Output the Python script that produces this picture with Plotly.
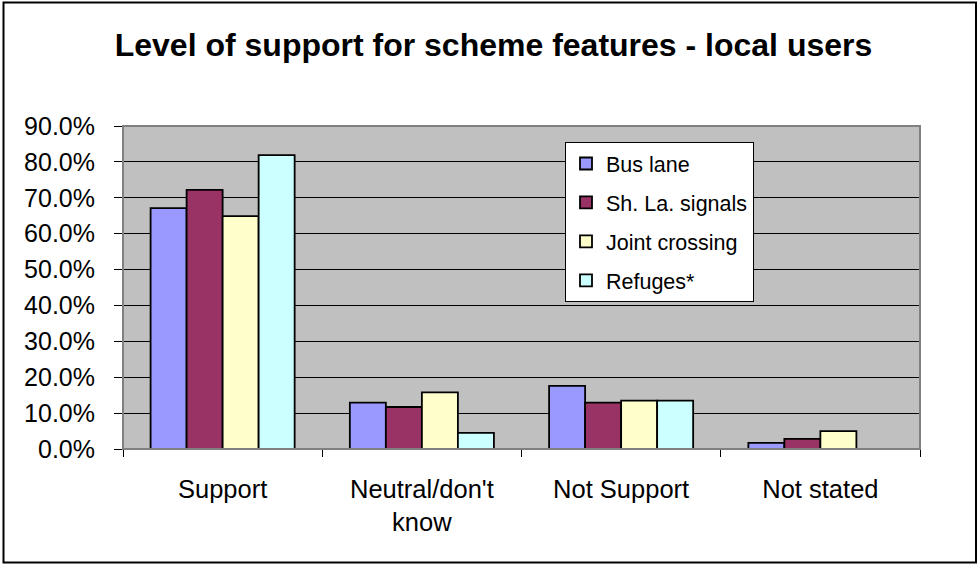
import plotly.graph_objects as go

# Survey response categories and share of local users per scheme feature
categories = ["Support", "Neutral/don't<br>know", "Not Support", "Not stated"]
bus_lane = [0.671, 0.129, 0.176, 0.017]
sh_la_signals = [0.722, 0.117, 0.129, 0.028]
joint_crossing = [0.649, 0.158, 0.135, 0.050]
refuges = [0.819, 0.045, 0.135, 0.0]

series_names = ["Bus lane", "Sh. La. signals", "Joint crossing", "Refuges*"]
series_values = [bus_lane, sh_la_signals, joint_crossing, refuges]
series_colors = ["#9999FF", "#993366", "#FFFFCC", "#CCFFFF"]

y_ticks = [i / 10 for i in range(10)]

FONT = "Arial, 'Liberation Sans', sans-serif"
W, H = 978, 565
M_L, M_R, M_T, M_B = 123, 58, 126, 116
plot_w = W - M_L - M_R
plot_h = H - M_T - M_B

fig = go.Figure()
for i, (name, vals, col) in enumerate(zip(series_names, series_values, series_colors)):
    fig.add_trace(go.Bar(
        x=categories, y=vals, name=name,
        marker=dict(color=col, line=dict(color="#000000", width=1.8)),
        legendgroup=f"g{i}",
    ))

# pixel -> paper helpers for frame decorations
def px_x(p):
    return (p - M_L) / plot_w

def px_y(p):
    return (H - M_B - p) / plot_h

shapes = [
    # plot area border
    dict(type="rect", xref="paper", yref="paper", x0=0, x1=1, y0=0, y1=1,
         line=dict(color="#808080", width=2), fillcolor="rgba(0,0,0,0)", layer="above"),
    # outer chart frame
    dict(type="rect", xref="paper", yref="paper",
         x0=px_x(3.5), x1=px_x(976), y0=px_y(562.5), y1=px_y(2.5),
         line=dict(color="#000000", width=2), fillcolor="rgba(0,0,0,0)"),
]

fig.update_layout(
    width=W, height=H,
    margin=dict(l=M_L, r=M_R, t=M_T, b=M_B, autoexpand=False),
    paper_bgcolor="#FFFFFF",
    plot_bgcolor="#C0C0C0",
    font=dict(family=FONT, color="#000000", size=25),
    title=dict(
        text="<b>Level of support for scheme features - local users</b>",
        font=dict(family=FONT, size=32, color="#000000"),
        x=493.5 / W, xanchor="center", xref="container",
        y=1 - 45 / H, yanchor="middle",
    ),
    barmode="group",
    bargap=0.277,
    bargroupgap=0.0,
    showlegend=True,
    legend=dict(
        x=px_x(565), y=px_y(142), xanchor="left", yanchor="top",
        bgcolor="#FFFFFF", bordercolor="#000000", borderwidth=1,
        font=dict(family=FONT, size=21.5, color="#000000"),
        traceorder="grouped", tracegroupgap=8,
        itemwidth=30,
    ),
    shapes=shapes,
)

fig.update_xaxes(
    type="category",
    tickson="boundaries",
    ticks="outside", ticklen=7, tickcolor="#000000", tickwidth=1,
    showline=True, linecolor="#000000", linewidth=1,
    showgrid=False,
    tickfont=dict(family=FONT, size=25.5, color="#000000"),
    ticklabelstandoff=17,
)

fig.update_yaxes(
    range=[0, 0.9],
    tickvals=y_ticks,
    tickformat=".1%",
    ticks="outside", ticklen=8, tickcolor="#000000", tickwidth=1,
    showline=True, linecolor="#000000", linewidth=1,
    showgrid=True, gridcolor="#000000", gridwidth=1,
    zeroline=False,
    tickfont=dict(family=FONT, size=25, color="#000000"),
    ticklabelstandoff=14,
)

fig.write_html("out.html")
